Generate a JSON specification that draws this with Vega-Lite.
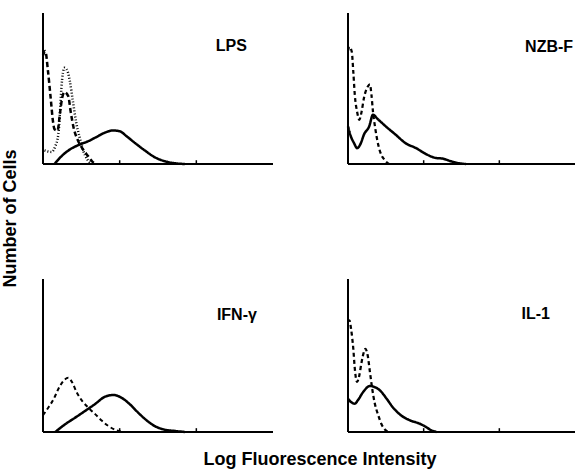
{
  "$schema": "https://vega.github.io/schema/vega-lite/v6.json",
  "background": "white",
  "padding": {"left": 1, "top": 12, "right": 0, "bottom": 0},
  "config": {
    "view": {"stroke": null},
    "font": "Liberation Sans",
    "title": {"fontSize": 18, "fontWeight": "bold", "color": "black", "font": "Liberation Sans"}
  },
  "title": {"text": "Log Fluorescence Intensity", "orient": "bottom", "anchor": "middle", "offset": 14, "dx": 31},
  "datasets": {
    "decades": [{"decade": 1}, {"decade": 2}],
    "lps": [
      {"series": "dashed", "x": 0.0, "y": 72}, {"series": "dashed", "x": 0.03, "y": 74.8}, {"series": "dashed", "x": 0.065, "y": 61.5}, {"series": "dashed", "x": 0.10, "y": 43.8}, {"series": "dashed", "x": 0.13, "y": 28.3}, {"series": "dashed", "x": 0.15, "y": 23.0}, {"series": "dashed", "x": 0.19, "y": 22.2}, {"series": "dashed", "x": 0.22, "y": 33.0}, {"series": "dashed", "x": 0.25, "y": 43.8}, {"series": "dashed", "x": 0.28, "y": 47.6}, {"series": "dashed", "x": 0.33, "y": 44.9}, {"series": "dashed", "x": 0.36, "y": 35.0}, {"series": "dashed", "x": 0.40, "y": 23.9}, {"series": "dashed", "x": 0.46, "y": 15.1}, {"series": "dashed", "x": 0.52, "y": 9.8}, {"series": "dashed", "x": 0.59, "y": 5.1}, {"series": "dashed", "x": 0.64, "y": 1.8}, {"series": "dashed", "x": 0.69, "y": 0},
      {"series": "dotted", "x": 0.02, "y": 9}, {"series": "dotted", "x": 0.056, "y": 8.4}, {"series": "dotted", "x": 0.11, "y": 8.0}, {"series": "dotted", "x": 0.16, "y": 11.7}, {"series": "dotted", "x": 0.20, "y": 19.7}, {"series": "dotted", "x": 0.22, "y": 33.0}, {"series": "dotted", "x": 0.24, "y": 50.4}, {"series": "dotted", "x": 0.26, "y": 60.4}, {"series": "dotted", "x": 0.28, "y": 63.7}, {"series": "dotted", "x": 0.32, "y": 61.5}, {"series": "dotted", "x": 0.35, "y": 54.9}, {"series": "dotted", "x": 0.39, "y": 41.6}, {"series": "dotted", "x": 0.43, "y": 28.3}, {"series": "dotted", "x": 0.48, "y": 17.3}, {"series": "dotted", "x": 0.52, "y": 9.6}, {"series": "dotted", "x": 0.58, "y": 2.9}, {"series": "dotted", "x": 0.63, "y": 0},
      {"series": "solid", "x": 0.15, "y": 0}, {"series": "solid", "x": 0.24, "y": 5.1}, {"series": "solid", "x": 0.35, "y": 9.6}, {"series": "solid", "x": 0.48, "y": 12.9}, {"series": "solid", "x": 0.59, "y": 15.1}, {"series": "solid", "x": 0.69, "y": 17.7}, {"series": "solid", "x": 0.80, "y": 20.6}, {"series": "solid", "x": 0.91, "y": 22.2}, {"series": "solid", "x": 1.00, "y": 21.7}, {"series": "solid", "x": 1.09, "y": 18.4}, {"series": "solid", "x": 1.20, "y": 13.9}, {"series": "solid", "x": 1.33, "y": 8.9}, {"series": "solid", "x": 1.46, "y": 4.4}, {"series": "solid", "x": 1.59, "y": 1.8}, {"series": "solid", "x": 1.72, "y": 0.5}, {"series": "solid", "x": 1.85, "y": 0}
    ],
    "nzb": [
      {"series": "dashed", "x": 0.0, "y": 75}, {"series": "dashed", "x": 0.02, "y": 77.6}, {"series": "dashed", "x": 0.05, "y": 74.3}, {"series": "dashed", "x": 0.07, "y": 61.1}, {"series": "dashed", "x": 0.09, "y": 45.7}, {"series": "dashed", "x": 0.12, "y": 34.7}, {"series": "dashed", "x": 0.15, "y": 29.3}, {"series": "dashed", "x": 0.18, "y": 34.7}, {"series": "dashed", "x": 0.21, "y": 43.5}, {"series": "dashed", "x": 0.26, "y": 51.2}, {"series": "dashed", "x": 0.29, "y": 52.7}, {"series": "dashed", "x": 0.31, "y": 45.7}, {"series": "dashed", "x": 0.33, "y": 34.7}, {"series": "dashed", "x": 0.36, "y": 23.7}, {"series": "dashed", "x": 0.39, "y": 15.0}, {"series": "dashed", "x": 0.43, "y": 7.3}, {"series": "dashed", "x": 0.48, "y": 2.9}, {"series": "dashed", "x": 0.54, "y": 0},
      {"series": "solid", "x": 0.0, "y": 24.9}, {"series": "solid", "x": 0.03, "y": 19.4}, {"series": "solid", "x": 0.08, "y": 13.8}, {"series": "solid", "x": 0.12, "y": 10.5}, {"series": "solid", "x": 0.17, "y": 13.8}, {"series": "solid", "x": 0.21, "y": 19.4}, {"series": "solid", "x": 0.28, "y": 24.9}, {"series": "solid", "x": 0.33, "y": 32.6}, {"series": "solid", "x": 0.39, "y": 29.9}, {"series": "solid", "x": 0.50, "y": 24.9}, {"series": "solid", "x": 0.63, "y": 19.4}, {"series": "solid", "x": 0.76, "y": 13.8}, {"series": "solid", "x": 0.90, "y": 10.5}, {"series": "solid", "x": 1.03, "y": 6.6}, {"series": "solid", "x": 1.16, "y": 4.0}, {"series": "solid", "x": 1.25, "y": 3.6}, {"series": "solid", "x": 1.36, "y": 1.8}, {"series": "solid", "x": 1.47, "y": 0.5}, {"series": "solid", "x": 1.56, "y": 0}
    ],
    "ifn": [
      {"series": "dashed", "x": 0.0, "y": 11}, {"series": "dashed", "x": 0.07, "y": 16.0}, {"series": "dashed", "x": 0.14, "y": 21.6}, {"series": "dashed", "x": 0.20, "y": 28.1}, {"series": "dashed", "x": 0.27, "y": 33.6}, {"series": "dashed", "x": 0.33, "y": 35.4}, {"series": "dashed", "x": 0.38, "y": 32.5}, {"series": "dashed", "x": 0.44, "y": 25.9}, {"series": "dashed", "x": 0.51, "y": 20.4}, {"series": "dashed", "x": 0.59, "y": 16.0}, {"series": "dashed", "x": 0.68, "y": 11.7}, {"series": "dashed", "x": 0.77, "y": 7.3}, {"series": "dashed", "x": 0.85, "y": 4.0}, {"series": "dashed", "x": 0.96, "y": 1.1}, {"series": "dashed", "x": 1.05, "y": 0},
      {"series": "solid", "x": 0.16, "y": 0}, {"series": "solid", "x": 0.29, "y": 5.1}, {"series": "solid", "x": 0.42, "y": 9.4}, {"series": "solid", "x": 0.55, "y": 13.8}, {"series": "solid", "x": 0.68, "y": 18.3}, {"series": "solid", "x": 0.81, "y": 23.1}, {"series": "solid", "x": 0.92, "y": 24.2}, {"series": "solid", "x": 1.03, "y": 22.2}, {"series": "solid", "x": 1.14, "y": 17.8}, {"series": "solid", "x": 1.24, "y": 12.7}, {"series": "solid", "x": 1.35, "y": 7.7}, {"series": "solid", "x": 1.46, "y": 3.8}, {"series": "solid", "x": 1.59, "y": 1.5}, {"series": "solid", "x": 1.72, "y": 0.7}, {"series": "solid", "x": 1.85, "y": 0}
    ],
    "il1": [
      {"series": "dashed", "x": 0.0, "y": 72}, {"series": "dashed", "x": 0.02, "y": 73.0}, {"series": "dashed", "x": 0.04, "y": 67.5}, {"series": "dashed", "x": 0.07, "y": 54.4}, {"series": "dashed", "x": 0.09, "y": 41.4}, {"series": "dashed", "x": 0.12, "y": 32.7}, {"series": "dashed", "x": 0.15, "y": 37.1}, {"series": "dashed", "x": 0.18, "y": 45.8}, {"series": "dashed", "x": 0.21, "y": 52.3}, {"series": "dashed", "x": 0.23, "y": 54.4}, {"series": "dashed", "x": 0.26, "y": 50.1}, {"series": "dashed", "x": 0.29, "y": 39.2}, {"series": "dashed", "x": 0.32, "y": 28.3}, {"series": "dashed", "x": 0.35, "y": 19.6}, {"series": "dashed", "x": 0.40, "y": 10.9}, {"series": "dashed", "x": 0.44, "y": 5.4}, {"series": "dashed", "x": 0.50, "y": 1.1}, {"series": "dashed", "x": 0.55, "y": 0},
      {"series": "solid", "x": 0.0, "y": 21.8}, {"series": "solid", "x": 0.04, "y": 19.6}, {"series": "solid", "x": 0.09, "y": 18.5}, {"series": "solid", "x": 0.13, "y": 20.7}, {"series": "solid", "x": 0.20, "y": 26.1}, {"series": "solid", "x": 0.29, "y": 30.1}, {"series": "solid", "x": 0.35, "y": 29.4}, {"series": "solid", "x": 0.42, "y": 27.3}, {"series": "solid", "x": 0.51, "y": 21.8}, {"series": "solid", "x": 0.59, "y": 16.3}, {"series": "solid", "x": 0.70, "y": 10.9}, {"series": "solid", "x": 0.82, "y": 7.6}, {"series": "solid", "x": 0.95, "y": 5.4}, {"series": "solid", "x": 1.03, "y": 3.3}, {"series": "solid", "x": 1.10, "y": 1.1}, {"series": "solid", "x": 1.17, "y": 0}
    ]
  },
  "vconcat": [
    {
      "title": {"text": "Number of Cells", "orient": "left", "anchor": "middle", "offset": 18, "dx": 6, "fontSize": 18, "fontWeight": "bold"},
      "spacing": 109,
      "vconcat": [
        {
          "spacing": 69,
          "hconcat": [
            {
              "width": 230, "height": 151,
              "layer": [
                {
                  "data": {"name": "lps"},
                  "mark": {"type": "line", "interpolate": "monotone", "color": "black"},
                  "encoding": {
                    "x": {"field": "x", "type": "quantitative", "scale": {"domain": [0, 3], "nice": false}, "axis": null},
                    "y": {"field": "y", "type": "quantitative", "scale": {"domain": [0, 100], "nice": false}, "axis": null},
                    "strokeDash": {"field": "series", "type": "nominal", "scale": {"domain": ["solid", "dashed", "dotted"], "range": [[1, 0], [5, 3], [1, 2]]}, "legend": null},
                    "strokeWidth": {"field": "series", "type": "nominal", "scale": {"domain": ["solid", "dashed", "dotted"], "range": [2.5, 2.5, 0.8]}, "legend": null}
                  }
                },
                {"data": {"values": [{}]}, "mark": {"type": "rule", "color": "black", "strokeWidth": 2}, "encoding": {"x": {"datum": 0}}},
                {"data": {"values": [{}]}, "mark": {"type": "rule", "color": "black", "strokeWidth": 2}, "encoding": {"y": {"datum": 0}}},
                {"data": {"name": "decades"}, "mark": {"type": "rule", "color": "black", "strokeWidth": 1.5}, "encoding": {"x": {"field": "decade", "type": "quantitative"}, "y": {"datum": 0}, "y2": {"datum": 2.5}}},
                {
                  "data": {"values": [{"label": "LPS"}]},
                  "mark": {"type": "text", "align": "right", "baseline": "alphabetic", "fontSize": 16, "fontWeight": "bold", "color": "black"},
                  "encoding": {"x": {"datum": 2.66}, "y": {"datum": 74.8}, "text": {"field": "label"}}
                }
              ]
            },
            {
              "width": 227, "height": 151,
              "layer": [
                {
                  "data": {"name": "nzb"},
                  "mark": {"type": "line", "interpolate": "monotone", "color": "black"},
                  "encoding": {
                    "x": {"field": "x", "type": "quantitative", "scale": {"domain": [0, 3], "nice": false}, "axis": null},
                    "y": {"field": "y", "type": "quantitative", "scale": {"domain": [0, 100], "nice": false}, "axis": null},
                    "strokeDash": {"field": "series", "type": "nominal", "scale": {"domain": ["solid", "dashed", "dotted"], "range": [[1, 0], [4, 3], [1, 2]]}, "legend": null},
                    "strokeWidth": {"field": "series", "type": "nominal", "scale": {"domain": ["solid", "dashed", "dotted"], "range": [2.5, 2, 0.8]}, "legend": null}
                  }
                },
                {"data": {"values": [{}]}, "mark": {"type": "rule", "color": "black", "strokeWidth": 2}, "encoding": {"x": {"datum": 0}}},
                {"data": {"values": [{}]}, "mark": {"type": "rule", "color": "black", "strokeWidth": 2}, "encoding": {"y": {"datum": 0}}},
                {"data": {"name": "decades"}, "mark": {"type": "rule", "color": "black", "strokeWidth": 1.5}, "encoding": {"x": {"field": "decade", "type": "quantitative"}, "y": {"datum": 0}, "y2": {"datum": 2.5}}},
                {
                  "data": {"values": [{"label": "NZB-F"}]},
                  "mark": {"type": "text", "align": "right", "baseline": "alphabetic", "fontSize": 16, "fontWeight": "bold", "color": "black"},
                  "encoding": {"x": {"datum": 2.975}, "y": {"datum": 74.3}, "text": {"field": "label"}}
                }
              ]
            }
          ],
          "resolve": {"scale": {"strokeDash": "independent", "strokeWidth": "independent"}}
        },
        {
          "spacing": 69,
          "hconcat": [
            {
              "width": 230, "height": 153,
              "layer": [
                {
                  "data": {"name": "ifn"},
                  "mark": {"type": "line", "interpolate": "monotone", "color": "black"},
                  "encoding": {
                    "x": {"field": "x", "type": "quantitative", "scale": {"domain": [0, 3], "nice": false}, "axis": null},
                    "y": {"field": "y", "type": "quantitative", "scale": {"domain": [0, 100], "nice": false}, "axis": null},
                    "strokeDash": {"field": "series", "type": "nominal", "scale": {"domain": ["solid", "dashed", "dotted"], "range": [[1, 0], [4, 3], [1, 2]]}, "legend": null},
                    "strokeWidth": {"field": "series", "type": "nominal", "scale": {"domain": ["solid", "dashed", "dotted"], "range": [2.5, 1.5, 0.8]}, "legend": null}
                  }
                },
                {"data": {"values": [{}]}, "mark": {"type": "rule", "color": "black", "strokeWidth": 2}, "encoding": {"x": {"datum": 0}}},
                {"data": {"values": [{}]}, "mark": {"type": "rule", "color": "black", "strokeWidth": 2}, "encoding": {"y": {"datum": 0}}},
                {"data": {"name": "decades"}, "mark": {"type": "rule", "color": "black", "strokeWidth": 1.5}, "encoding": {"x": {"field": "decade", "type": "quantitative"}, "y": {"datum": 0}, "y2": {"datum": 2.5}}},
                {
                  "data": {"values": [{"label": "IFN-γ"}]},
                  "mark": {"type": "text", "align": "right", "baseline": "alphabetic", "fontSize": 16, "fontWeight": "bold", "color": "black"},
                  "encoding": {"x": {"datum": 2.79}, "y": {"datum": 73.2}, "text": {"field": "label"}}
                }
              ]
            },
            {
              "width": 227, "height": 153,
              "layer": [
                {
                  "data": {"name": "il1"},
                  "mark": {"type": "line", "interpolate": "monotone", "color": "black"},
                  "encoding": {
                    "x": {"field": "x", "type": "quantitative", "scale": {"domain": [0, 3], "nice": false}, "axis": null},
                    "y": {"field": "y", "type": "quantitative", "scale": {"domain": [0, 100], "nice": false}, "axis": null},
                    "strokeDash": {"field": "series", "type": "nominal", "scale": {"domain": ["solid", "dashed", "dotted"], "range": [[1, 0], [4, 3], [1, 2]]}, "legend": null},
                    "strokeWidth": {"field": "series", "type": "nominal", "scale": {"domain": ["solid", "dashed", "dotted"], "range": [2.5, 2, 0.8]}, "legend": null}
                  }
                },
                {"data": {"values": [{}]}, "mark": {"type": "rule", "color": "black", "strokeWidth": 2}, "encoding": {"x": {"datum": 0}}},
                {"data": {"values": [{}]}, "mark": {"type": "rule", "color": "black", "strokeWidth": 2}, "encoding": {"y": {"datum": 0}}},
                {"data": {"name": "decades"}, "mark": {"type": "rule", "color": "black", "strokeWidth": 1.5}, "encoding": {"x": {"field": "decade", "type": "quantitative"}, "y": {"datum": 0}, "y2": {"datum": 2.5}}},
                {
                  "data": {"values": [{"label": "IL-1"}]},
                  "mark": {"type": "text", "align": "right", "baseline": "alphabetic", "fontSize": 16, "fontWeight": "bold", "color": "black"},
                  "encoding": {"x": {"datum": 2.67}, "y": {"datum": 73.9}, "text": {"field": "label"}}
                }
              ]
            }
          ],
          "resolve": {"scale": {"strokeDash": "independent", "strokeWidth": "independent"}}
        }
      ],
      "resolve": {"scale": {"strokeDash": "independent", "strokeWidth": "independent"}}
    }
  ],
  "resolve": {"scale": {"strokeDash": "independent", "strokeWidth": "independent"}}
}
